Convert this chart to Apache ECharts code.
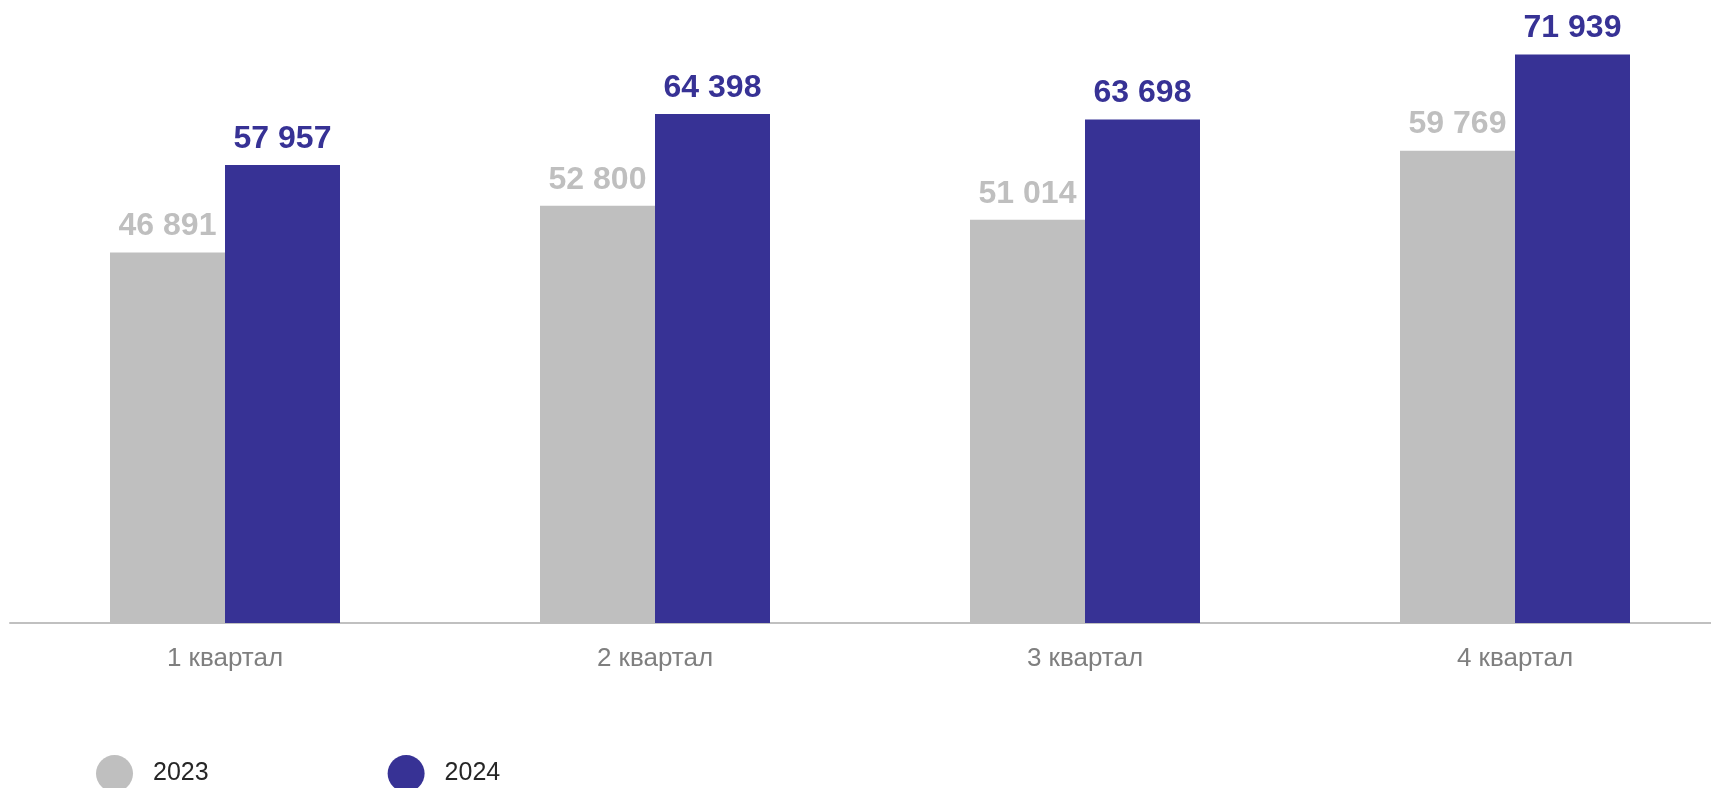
<!DOCTYPE html>
<html>
<head>
<meta charset="utf-8">
<script src="https://cdn.jsdelivr.net/npm/echarts@6/dist/echarts.min.js"></script>
<style>
html,body{margin:0;padding:0;background:#fff;overflow:hidden;width:1711px;height:788px;}
#c{width:1731px;height:788px;}
</style>
</head>
<body>
<div id="c"></div>
<script>
const categories = ['1 квартал', '2 квартал', '3 квартал', '4 квартал'];
const series2023 = [46891, 52800, 51014, 59769];
const series2024 = [57957, 64398, 63698, 71939];
const seriesNames = ['2023', '2024'];

const FONT = '"Liberation Sans", Arial, sans-serif';
const GRAY = '#bfbfbf';
const BLUE = '#373295';
const fmt = v => String(v).replace(/\B(?=(\d{3})+(?!\d))/g, ' ');

const chart = echarts.init(document.getElementById('c'), null, {renderer: 'canvas'});
chart.setOption({
  animation: false,
  backgroundColor: '#ffffff',
  grid: {left: 10, right: 1, top: 6.6, bottom: 165, containLabel: false},
  legend: {
    left: 96, top: 755, padding: 0,
    icon: 'circle', itemWidth: 37, itemHeight: 37, itemGap: 179,
    textStyle: {fontFamily: FONT, fontSize: 25, color: '#262626', padding: [0, 0, 0, 15]},
    data: seriesNames
  },
  xAxis: {
    type: 'category',
    data: categories,
    axisLine: {show: true, lineStyle: {color: '#c0c0c0', width: 2}},
    axisTick: {show: false},
    axisLabel: {fontFamily: FONT, fontSize: 26, color: '#7f7f7f', margin: 23}
  },
  yAxis: {
    type: 'value', min: 0, max: 78000, show: false,
    splitLine: {show: false}
  },
  series: [
    {
      name: seriesNames[0], type: 'bar', data: series2023,
      barWidth: 115, barGap: '0%',
      itemStyle: {color: GRAY},
      label: {show: true, position: 'top', distance: 10, formatter: p => fmt(p.value),
        fontFamily: FONT, fontSize: 32, fontWeight: 'bold', color: GRAY}
    },
    {
      name: seriesNames[1], type: 'bar', data: series2024,
      barWidth: 115, barGap: '0%',
      itemStyle: {color: BLUE},
      label: {show: true, position: 'top', distance: 10, formatter: p => fmt(p.value),
        fontFamily: FONT, fontSize: 32, fontWeight: 'bold', color: BLUE}
    }
  ]
});
</script>
</body>
</html>
